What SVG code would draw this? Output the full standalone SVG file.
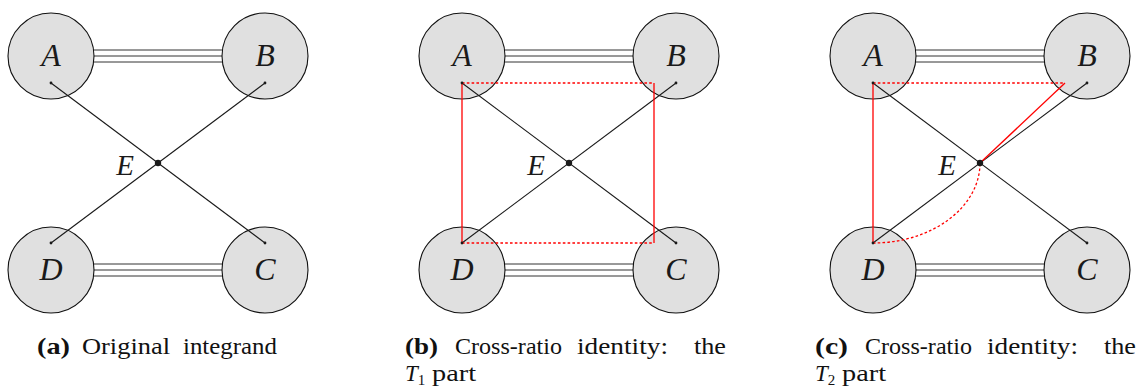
<svg xmlns="http://www.w3.org/2000/svg" width="1138" height="387" viewBox="0 0 1138 387">
<style>
  .bond { stroke: #333; stroke-width: 1; fill: none; }
  .prop { stroke: #1a1a1a; stroke-width: 1.1; fill: none; }
  .node { fill: #e0e0e0; stroke: #111; stroke-width: 1.1; }
  .dot { fill: #1a1a1a; }
  .red { stroke: #ff0000; stroke-width: 1.3; fill: none; }
  .reddot { stroke: #ff0000; stroke-width: 1.3; fill: none; stroke-dasharray: 2.6 2.2; }
  .lbl { font-family: "Liberation Serif", "Times New Roman", serif; font-style: italic; font-size: 32px; fill: #1a1a1a; text-anchor: middle; }
  .elbl { font-family: "Liberation Serif", "Times New Roman", serif; font-style: italic; font-size: 29px; fill: #1a1a1a; text-anchor: middle; }
  .cap { font-family: "Liberation Serif", "Times New Roman", serif; font-size: 23px; fill: #111; }
  .capb { font-weight: bold; }
  .capi { font-style: italic; }
</style>
<defs>
  <circle id="nodeShape" r="43" class="node"/>
</defs>

<!-- Panel (a) -->
<g id="panel-a">
  <g id="a-connectors">
    <line class="bond" x1="51" y1="50" x2="265" y2="50"/>
    <line class="bond" x1="51" y1="56" x2="265" y2="56"/>
    <line class="bond" x1="51" y1="62" x2="265" y2="62"/>
    <line class="bond" x1="51" y1="264" x2="265" y2="264"/>
    <line class="bond" x1="51" y1="270" x2="265" y2="270"/>
    <line class="bond" x1="51" y1="276" x2="265" y2="276"/>
  </g>
  <g id="a-A"><use href="#nodeShape" x="51" y="56"/><text class="lbl" x="51" y="66">A</text></g>
  <g id="a-B"><use href="#nodeShape" x="265" y="56"/><text class="lbl" x="265" y="66">B</text></g>
  <g id="a-D"><use href="#nodeShape" x="51" y="270"/><text class="lbl" x="51" y="280">D</text></g>
  <g id="a-C"><use href="#nodeShape" x="265" y="270"/><text class="lbl" x="265" y="280">C</text></g>
  <g id="a-lines">
    <line class="prop" x1="51" y1="83" x2="265" y2="243"/>
    <line class="prop" x1="265" y1="83" x2="51" y2="243"/>
    <circle class="dot" cx="51" cy="83" r="1.4"/>
    <circle class="dot" cx="265" cy="83" r="1.4"/>
    <circle class="dot" cx="51" cy="243" r="1.4"/>
    <circle class="dot" cx="265" cy="243" r="1.4"/>
  </g>
  <g id="a-E"><circle class="dot" cx="158" cy="163" r="3.2"/><text class="elbl" x="125" y="175">E</text></g>
</g>

<!-- Panel (b) -->
<g id="panel-b" transform="translate(411,0)">
  <g id="b-connectors">
    <line class="bond" x1="51" y1="50" x2="265" y2="50"/>
    <line class="bond" x1="51" y1="56" x2="265" y2="56"/>
    <line class="bond" x1="51" y1="62" x2="265" y2="62"/>
    <line class="bond" x1="51" y1="264" x2="265" y2="264"/>
    <line class="bond" x1="51" y1="270" x2="265" y2="270"/>
    <line class="bond" x1="51" y1="276" x2="265" y2="276"/>
  </g>
  <g id="b-A"><use href="#nodeShape" x="51" y="56"/><text class="lbl" x="51" y="66">A</text></g>
  <g id="b-B"><use href="#nodeShape" x="265" y="56"/><text class="lbl" x="265" y="66">B</text></g>
  <g id="b-D"><use href="#nodeShape" x="51" y="270"/><text class="lbl" x="51" y="280">D</text></g>
  <g id="b-C"><use href="#nodeShape" x="265" y="270"/><text class="lbl" x="265" y="280">C</text></g>
  <g id="b-lines">
    <line class="prop" x1="51" y1="83" x2="265" y2="243"/>
    <line class="prop" x1="265" y1="83" x2="51" y2="243"/>
    <line class="red" x1="51" y1="83" x2="51" y2="243"/>
    <line class="red" x1="243" y1="83" x2="243" y2="243"/>
    <line class="reddot" x1="51" y1="83" x2="243" y2="83"/>
    <line class="reddot" x1="51" y1="243" x2="243" y2="243"/>
    <circle class="dot" cx="51" cy="83" r="1.4"/>
    <circle class="dot" cx="265" cy="83" r="1.4"/>
    <circle class="dot" cx="51" cy="243" r="1.4"/>
    <circle class="dot" cx="265" cy="243" r="1.4"/>
  </g>
  <g id="b-E"><circle class="dot" cx="158" cy="163" r="3.2"/><text class="elbl" x="125" y="175">E</text></g>
</g>

<!-- Panel (c) -->
<g id="panel-c" transform="translate(822,0)">
  <g id="c-connectors">
    <line class="bond" x1="51" y1="50" x2="265" y2="50"/>
    <line class="bond" x1="51" y1="56" x2="265" y2="56"/>
    <line class="bond" x1="51" y1="62" x2="265" y2="62"/>
    <line class="bond" x1="51" y1="264" x2="265" y2="264"/>
    <line class="bond" x1="51" y1="270" x2="265" y2="270"/>
    <line class="bond" x1="51" y1="276" x2="265" y2="276"/>
  </g>
  <g id="c-A"><use href="#nodeShape" x="51" y="56"/><text class="lbl" x="51" y="66">A</text></g>
  <g id="c-B"><use href="#nodeShape" x="265" y="56"/><text class="lbl" x="265" y="66">B</text></g>
  <g id="c-D"><use href="#nodeShape" x="51" y="270"/><text class="lbl" x="51" y="280">D</text></g>
  <g id="c-C"><use href="#nodeShape" x="265" y="270"/><text class="lbl" x="265" y="280">C</text></g>
  <g id="c-lines">
    <line class="prop" x1="51" y1="83" x2="265" y2="243"/>
    <line class="prop" x1="265" y1="83" x2="51" y2="243"/>
    <line class="red" x1="51" y1="83" x2="51" y2="243"/>
    <line class="reddot" x1="51" y1="83" x2="243" y2="83"/>
    <line class="red" x1="158" y1="163" x2="243" y2="83"/>
    <path class="reddot" d="M51,243 A107,80 0 0 0 158,163"/>
    <circle class="dot" cx="51" cy="83" r="1.4"/>
    <circle class="dot" cx="265" cy="83" r="1.4"/>
    <circle class="dot" cx="51" cy="243" r="1.4"/>
    <circle class="dot" cx="265" cy="243" r="1.4"/>
  </g>
  <g id="c-E"><circle class="dot" cx="158" cy="163" r="3.2"/><text class="elbl" x="125" y="175">E</text></g>
</g>

<!-- Captions -->
<g id="captions" class="cap">
  <text x="37" y="354" class="capb" textLength="33" lengthAdjust="spacingAndGlyphs">(a)</text>
  <text x="82" y="354" textLength="88" lengthAdjust="spacingAndGlyphs">Original</text>
  <text x="183" y="354" textLength="94" lengthAdjust="spacingAndGlyphs">integrand</text>

  <text x="405" y="354" class="capb" textLength="33" lengthAdjust="spacingAndGlyphs">(b)</text>
  <text x="455" y="354" textLength="107" lengthAdjust="spacingAndGlyphs">Cross-ratio</text>
  <text x="577" y="354" textLength="91" lengthAdjust="spacingAndGlyphs">identity:</text>
  <text x="694" y="354" textLength="32" lengthAdjust="spacingAndGlyphs">the</text>
  <text x="405" y="381"><tspan class="capi">T</tspan><tspan font-size="15" dy="4">1</tspan></text>
  <text x="432" y="381" textLength="44" lengthAdjust="spacingAndGlyphs">part</text>

  <text x="815" y="354" class="capb" textLength="33" lengthAdjust="spacingAndGlyphs">(c)</text>
  <text x="865" y="354" textLength="107" lengthAdjust="spacingAndGlyphs">Cross-ratio</text>
  <text x="987" y="354" textLength="91" lengthAdjust="spacingAndGlyphs">identity:</text>
  <text x="1104" y="354" textLength="32" lengthAdjust="spacingAndGlyphs">the</text>
  <text x="815" y="381"><tspan class="capi">T</tspan><tspan font-size="15" dy="4">2</tspan></text>
  <text x="842" y="381" textLength="44" lengthAdjust="spacingAndGlyphs">part</text>
</g>
</svg>
